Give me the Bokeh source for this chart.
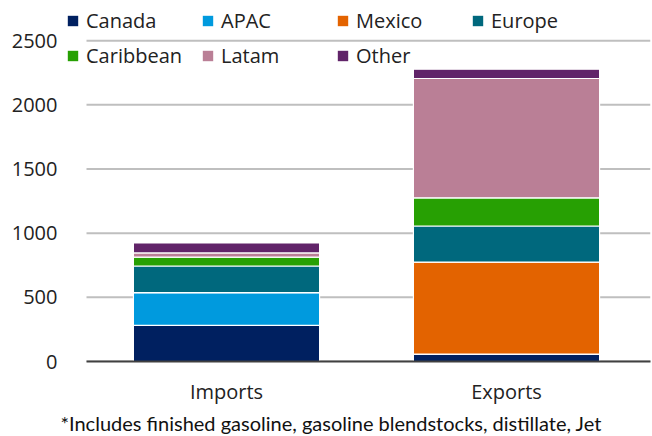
from bokeh.plotting import figure
from bokeh.models import (Range1d, FixedTicker, Legend, LegendItem,
                          Title, ColumnDataSource)
from bokeh.embed import file_html
from bokeh.resources import INLINE

# ---- data ----
flows = ["Imports", "Exports"]
regions = ["Canada", "APAC", "Mexico", "Europe", "Caribbean", "Latam", "Other"]
canada = [282, 58]
apac = [254, 0]
mexico = [0, 717]
europe = [208, 281]
caribbean = [70, 219]
latam = [32, 930]
other = [78, 73]
colors = ["#002060", "#009ADE", "#E36300", "#00687D", "#27A003", "#BA7F96", "#612469"]
y_ticks = [0, 500, 1000, 1500, 2000, 2500]
footnote = "*Includes finished gasoline, gasoline blendstocks, distillate, Jet"

FONT = "Open Sans"

# category slots: each flow occupies one unit, centred at i + 0.5
xpos = [i + 0.5 for i in range(len(flows))]
n = len(flows)
data = dict(x=xpos, Canada=canada, APAC=apac, Mexico=mexico, Europe=europe,
            Caribbean=caribbean, Latam=latam, Other=other)
source = ColumnDataSource(data)

x_start = -19 / 280
x_end = n + 4 / 280
p = figure(x_range=Range1d(x_start, x_end), y_range=Range1d(0, 2774),
           width=652, height=436, output_backend="svg", toolbar_location=None,
           min_border_left=67, min_border_right=2, min_border_top=5, min_border_bottom=75)

p.xgrid.grid_line_color = None
p.ygrid.grid_line_color = None
# horizontal gridlines spanning the category area only
p.segment(x0=[0] * len(y_ticks), x1=[x_end] * len(y_ticks), y0=y_ticks, y1=y_ticks,
          line_color="#bfbfbf", line_width=2)

p.vbar_stack(regions, x="x", width=0.665, source=source, color=colors,
             line_color="white", line_width=1.2)

# legend proxies (solid squares, zero-height bars)
items = []
for reg, col in zip(regions, colors):
    r = p.vbar(x=[xpos[0]], top=[0], bottom=[0], width=0.0, fill_color=col, line_color=None)
    items.append(LegendItem(label=reg, renderers=[r]))

legend = Legend(items=items, location=(-1, 288), orientation="horizontal", ncols=4,
                glyph_width=13, glyph_height=13, label_standoff=7, label_width=115,
                spacing=0, padding=0, margin=0, border_line_color=None,
                background_fill_alpha=0, label_text_font=FONT,
                label_text_font_size="20px", label_text_color="#222222",
                label_height=35)
p.add_layout(legend, "center")

p.outline_line_color = None
p.yaxis.ticker = FixedTicker(ticks=y_ticks)
p.yaxis.axis_line_color = None
p.yaxis.major_tick_line_color = None
p.yaxis.minor_tick_line_color = None
p.yaxis.major_label_standoff = 4
p.yaxis.major_label_text_font = FONT
p.yaxis.major_label_text_font_size = "20px"
p.yaxis.major_label_text_color = "#222222"

p.xaxis.ticker = FixedTicker(ticks=xpos)
p.xaxis.major_label_overrides = {x: f for x, f in zip(xpos, flows)}
p.xaxis.bounds = (0, x_end)
p.xaxis.axis_line_color = "#404040"
p.xaxis.axis_line_width = 2
p.xaxis.major_tick_line_color = None
p.xaxis.minor_tick_line_color = None
p.xaxis.major_label_standoff = 10
p.xaxis.major_label_text_font = FONT
p.xaxis.major_label_text_font_size = "20px"
p.xaxis.major_label_text_color = "#222222"

note = Title(text=footnote, align="left", offset=-7, standoff=3,
             text_font="Lato", text_font_size="20px", text_font_style="normal",
             text_color="#111111")
p.add_layout(note, "below")

open("out.html", "w").write(file_html(p, INLINE))
